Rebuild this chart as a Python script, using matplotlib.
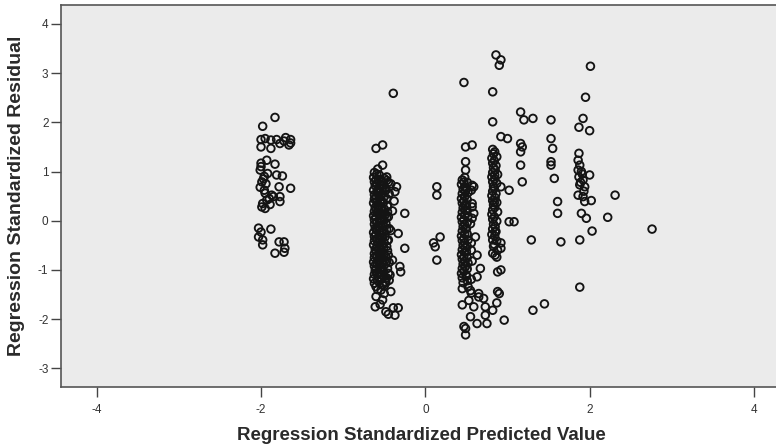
import matplotlib
matplotlib.use("Agg")
import matplotlib.pyplot as plt

# residual plot, values

# group near predicted -2
grpA_x = [-1.83, -1.98, -2.00, -1.95, -1.88, -1.81, -1.70, -1.64, -2.00, -1.88, -1.77, -1.66,
          -1.72, -1.64, -2.00, -1.93, -1.83, -2.01, -1.92, -1.81, -1.74, -1.99, -2.01, -1.78,
          -1.64, -1.95, -1.85, -1.77, -1.93, -1.99, -1.95, -1.87, -1.77, -1.97, -1.96, -1.90,
          -2.00, -1.94, -1.98, -1.89, -1.96,
          -2.03, -2.00, -1.88, -2.03, -1.98, -1.98, -1.78, -1.72, -1.71, -1.83, -1.72]
grpA_y = [2.10, 1.92, 1.65, 1.67, 1.64, 1.65, 1.69, 1.65, 1.50, 1.47, 1.57, 1.54,
          1.62, 1.58, 1.17, 1.23, 1.15, 1.03, 0.96, 0.93, 0.91, 0.79, 0.68, 0.69,
          0.66, 0.56, 0.49, 0.49, 0.42, 0.28, 0.25, 0.52, 0.39, 0.85, 0.62, 0.45,
          1.10, 0.75, 0.35, 0.33, 0.90,
          -0.15, -0.23, -0.17, -0.33, -0.39, -0.49, -0.43, -0.43, -0.56, -0.66, -0.64]

# dense band near predicted -0.55
grpB_x = [-0.62, -0.63, -0.62, -0.61, -0.63, -0.62, -0.62, -0.63, -0.61, -0.62, -0.63, -0.62,
          -0.62, -0.61, -0.63, -0.62, -0.62, -0.63, -0.61, -0.62, -0.62, -0.63, -0.62, -0.61,
          -0.62, -0.63, -0.62,
          -0.59, -0.60, -0.59, -0.58, -0.59, -0.60, -0.59, -0.58, -0.59, -0.60, -0.59, -0.58,
          -0.59, -0.60, -0.59, -0.58, -0.59, -0.60, -0.59, -0.58, -0.59, -0.60, -0.59, -0.58,
          -0.56, -0.57, -0.55, -0.56, -0.57, -0.56, -0.55, -0.56, -0.57, -0.56, -0.55, -0.56,
          -0.57, -0.56, -0.55, -0.56, -0.57, -0.56, -0.55, -0.56, -0.57, -0.56, -0.55, -0.56,
          -0.57,
          -0.53, -0.52, -0.53, -0.54, -0.53, -0.52, -0.53, -0.54, -0.53, -0.52, -0.53, -0.54,
          -0.53, -0.52, -0.53, -0.54, -0.53, -0.52,
          -0.50, -0.51, -0.49, -0.50, -0.51, -0.50, -0.49, -0.50, -0.51, -0.50, -0.49, -0.50,
          -0.51, -0.50, -0.49, -0.50, -0.51, -0.50, -0.49, -0.50,
          -0.47, -0.48, -0.47, -0.46, -0.47, -0.48, -0.47, -0.46, -0.47, -0.48, -0.47, -0.46,
          -0.47, -0.48,
          -0.45, -0.44, -0.46, -0.45, -0.44, -0.45, -0.46, -0.44, -0.45, -0.44, -0.46, -0.45]
grpB_y = [0.98, 0.88, 0.79, 0.71, 0.62, 0.53, 0.44, 0.36, 0.27, 0.19, 0.10, 0.02,
          -0.07, -0.15, -0.24, -0.32, -0.41, -0.49, -0.58, -0.67, -0.75, -0.84, -0.92, -1.01,
          -1.09, -1.18, -1.27,
          0.95, 0.83, 0.75, 0.64, 0.57, 0.46, 0.38, 0.29, 0.17, 0.08, -0.02, -0.11,
          -0.19, -0.28, -0.36, -0.45, -0.55, -0.62, -0.72, -0.81, -0.89, -0.98, -1.08, -1.22,
          0.93, 0.84, 0.74, 0.66, 0.57, 0.47, 0.39, 0.31, 0.22, 0.13, 0.05, -0.04,
          -0.12, -0.21, -0.29, -0.37, -0.46, -0.54, -0.63, -0.71, -0.80, -0.89, -0.97, -1.06,
          -1.15,
          0.81, 0.67, 0.53, 0.42, 0.26, 0.14, 0.03, -0.09, -0.25, -0.34, -0.51, -0.60,
          -0.76, -0.87, -0.95, -1.10, -1.19, -1.30,
          0.86, 0.72, 0.61, 0.49, 0.37, 0.24, 0.12, 0.01, -0.10, -0.22, -0.33, -0.45,
          -0.56, -0.68, -0.79, -0.90, -1.02, -1.13, -1.24, -1.32,
          0.82, 0.66, 0.45, 0.29, 0.06, -0.05, -0.18, -0.40, -0.52, -0.73, -0.83, -0.97,
          -1.16, -1.26,
          0.78, 0.55, 0.31, 0.08, -0.16, -0.39, -0.61, -0.85, -1.07, -1.21, 0.18, -0.70]
grpB_out_x = [-0.39, -0.60, -0.52, -0.52, -0.58, -0.47, -0.42, -0.35, -0.48, -0.37, -0.38,
              -0.40, -0.25, -0.33, -0.25, -0.42, -0.31, -0.30, -0.40, -0.43,
              -0.60, -0.54, -0.42, -0.60, -0.52, -0.61, -0.48, -0.39, -0.33, -0.37, -0.55,
              -0.45, -0.58, -0.50]
grpB_out_y = [2.59, 1.47, 1.54, 1.13, 1.05, 0.89, 0.75, 0.69, 0.62, 0.59, 0.40,
              0.20, 0.15, -0.26, -0.56, -0.20, -0.93, -1.04, -0.80, -1.10,
              -1.34, -1.41, -1.44, -1.54, -1.61, -1.75, -1.85, -1.77, -1.77, -1.92, -1.70,
              -1.90, -1.40, -1.48]

# few points near 0.15
grpC_x = [0.14, 0.14, 0.18, 0.12, 0.14, 0.10]
grpC_y = [0.69, 0.52, -0.33, -0.53, -0.80, -0.45]

# dense band near 0.5
grpD_x = [0.45, 0.44, 0.46, 0.45, 0.44, 0.45, 0.46, 0.45, 0.44, 0.45, 0.46, 0.45,
          0.44, 0.45, 0.46, 0.45, 0.44, 0.45, 0.46, 0.45, 0.44, 0.45, 0.46, 0.45,
          0.48, 0.47, 0.48, 0.49, 0.48, 0.47, 0.48, 0.49, 0.48, 0.47, 0.48, 0.49,
          0.48, 0.47, 0.48, 0.49, 0.48, 0.47, 0.48, 0.49,
          0.51, 0.50, 0.52, 0.51, 0.50, 0.51, 0.52, 0.51, 0.50, 0.51, 0.52, 0.51,
          0.50, 0.51, 0.52, 0.51, 0.50, 0.51, 0.52,
          0.56, 0.57, 0.55, 0.56, 0.57, 0.56, 0.55, 0.56, 0.57, 0.56]
grpD_y = [0.83, 0.74, 0.64, 0.55, 0.45, 0.36, 0.26, 0.17, 0.07, -0.02, -0.12, -0.21,
          -0.31, -0.40, -0.50, -0.59, -0.69, -0.78, -0.88, -0.97, -1.07, -1.16, -1.26, -1.38,
          0.88, 0.79, 0.69, 0.60, 0.49, 0.40, 0.31, 0.21, 0.12, 0.02, -0.08, -0.17,
          -0.27, -0.36, -0.45, -0.55, -0.64, -0.74, -0.83, -0.93,
          0.78, 0.66, 0.57, 0.43, 0.31, 0.21, 0.09, -0.04, -0.16, -0.27, -0.39, -0.52,
          -0.63, -0.75, -0.86, -0.98, -1.11, -1.22, -1.34,
          0.62, 0.28, -0.06, -0.45, -0.82, -1.19, -1.42, -1.47, 0.05, -0.60]
grpD_out_x = [0.47, 0.49, 0.57, 0.49, 0.49, 0.57, 0.59, 0.57, 0.59, 0.61, 0.63, 0.67,
              0.63, 0.45, 0.59, 0.71, 0.73, 0.55, 0.65, 0.82, 0.73, 0.63, 0.75, 0.47,
              0.49, 0.49, 0.65, 0.53, 0.47, 0.50]
grpD_out_y = [2.81, 1.50, 1.54, 1.20, 1.03, 0.72, 0.69, 0.35, 0.15, -0.33, -0.70, -0.97,
              -1.14, -1.71, -1.75, -1.58, -1.75, -1.95, -1.48, -1.82, -1.92, -2.09, -2.09, -2.15,
              -2.19, -2.32, -1.55, -1.62, -1.03, -1.13]

# dense band near 0.85
grpE_x = [0.82, 0.83, 0.81, 0.82, 0.83, 0.82, 0.81, 0.82, 0.83, 0.82, 0.81, 0.82,
          0.83, 0.82, 0.81, 0.82, 0.83, 0.82, 0.81, 0.82, 0.83, 0.82,
          0.845, 0.84, 0.85, 0.845, 0.84, 0.85, 0.845, 0.84, 0.85, 0.845, 0.84, 0.85,
          0.845, 0.84, 0.85,
          0.87, 0.86, 0.88, 0.87, 0.86, 0.87, 0.88, 0.87, 0.86, 0.87, 0.88, 0.87]
grpE_y = [1.45, 1.36, 1.27, 1.17, 1.08, 0.98, 0.89, 0.79, 0.70, 0.60, 0.51, 0.41,
          0.32, 0.22, 0.13, 0.03, -0.07, -0.17, -0.28, -0.39, -0.52, -0.66,
          1.40, 1.22, 1.03, 0.85, 0.66, 0.47, 0.27, 0.08, -0.12, -0.31, -0.48, -0.70,
          0.93, 0.37, -0.22,
          1.30, 1.12, 0.94, 0.76, 0.55, 0.37, 0.18, -0.01, -0.22, -0.41, -0.60, -0.74]
grpE_out_x = [0.86, 0.92, 0.90, 0.82, 0.82, 0.92, 1.00, 0.92, 1.02, 1.02, 0.92, 0.92,
              0.92, 0.88, 0.96, 0.87, 0.90, 0.88]
grpE_out_y = [3.37, 3.27, 3.16, 2.62, 2.01, 1.71, 1.67, 0.69, 0.62, -0.02, -0.45, -0.56,
              -1.00, -1.44, -2.02, -1.67, -1.48, -1.04]

# sparse columns to the right
grpF_x = [1.16, 1.20, 1.31, 1.16, 1.18, 1.16, 1.16, 1.18, 1.08, 1.29, 1.31, 1.45,
          1.53, 1.53, 1.55, 1.53, 1.53, 1.57, 1.61, 1.61, 1.65]
grpF_y = [2.21, 2.05, 2.08, 1.57, 1.50, 1.40, 1.13, 0.79, -0.02, -0.39, -1.82, -1.69,
          2.05, 1.67, 1.47, 1.20, 1.13, 0.86, 0.39, 0.15, -0.43]

grpG_x = [2.01, 1.95, 1.92, 1.87, 2.00, 1.87, 1.86, 1.88, 1.86, 1.90, 1.87, 1.92,
          1.88, 1.94, 1.86, 1.92, 2.00, 1.94, 2.02, 1.90, 1.96, 1.88, 1.88, 1.91,
          1.89, 1.93, 2.31, 2.22, 2.03, 2.76]
grpG_y = [3.14, 2.51, 2.08, 1.90, 1.83, 1.37, 1.23, 1.13, 1.03, 1.00, 0.89, 0.83,
          0.73, 0.69, 0.52, 0.49, 0.93, 0.39, 0.41, 0.15, 0.05, -0.39, -1.35, 0.95,
          0.78, 0.60, 0.52, 0.07, -0.21, -0.17]

xs = grpA_x + grpB_x + grpB_out_x + grpC_x + grpD_x + grpD_out_x + grpE_x + grpE_out_x + grpF_x + grpG_x
ys = grpA_y + grpB_y + grpB_out_y + grpC_y + grpD_y + grpD_out_y + grpE_y + grpE_out_y + grpF_y + grpG_y

xticks = [-4, -2, 0, 2, 4]
yticks = [-3, -2, -1, 0, 1, 2, 3, 4]

plt.rcParams['font.family'] = ['Liberation Sans', 'DejaVu Sans']
plt.rcParams['axes.unicode_minus'] = False

fig = plt.figure(figsize=(7.76, 4.47), dpi=100)
ax = fig.add_axes([0.0786, 0.1342, 0.93, 0.8546])
ax.set_facecolor('#ebebeb')

ax.scatter(xs, ys, s=30, facecolors='none', edgecolors='#141414', linewidths=1.35, zorder=3)

ax.set_xlim(-4.435, 4.35)
ax.set_ylim(-3.38, 4.385)
ax.set_xticks(xticks)
ax.set_yticks(yticks)
ax.tick_params(direction='out', length=7, width=1, color='#444444',
               labelsize=8.5, labelcolor='#333333')
ax.tick_params(axis='x', pad=5)
ax.tick_params(axis='y', pad=2)

for side in ['top', 'left', 'bottom']:
    ax.spines[side].set_color('#555555')
    ax.spines[side].set_linewidth(1.2)
ax.spines['right'].set_visible(False)

ax.set_xlabel('Regression Standardized Predicted Value', fontsize=13.5,
              fontweight='bold', color='#2a2a2a', labelpad=8)
ax.set_ylabel('Regression Standardized Residual', fontsize=14,
              fontweight='bold', color='#2a2a2a', labelpad=9)

fig.savefig('out.png', dpi=100)
